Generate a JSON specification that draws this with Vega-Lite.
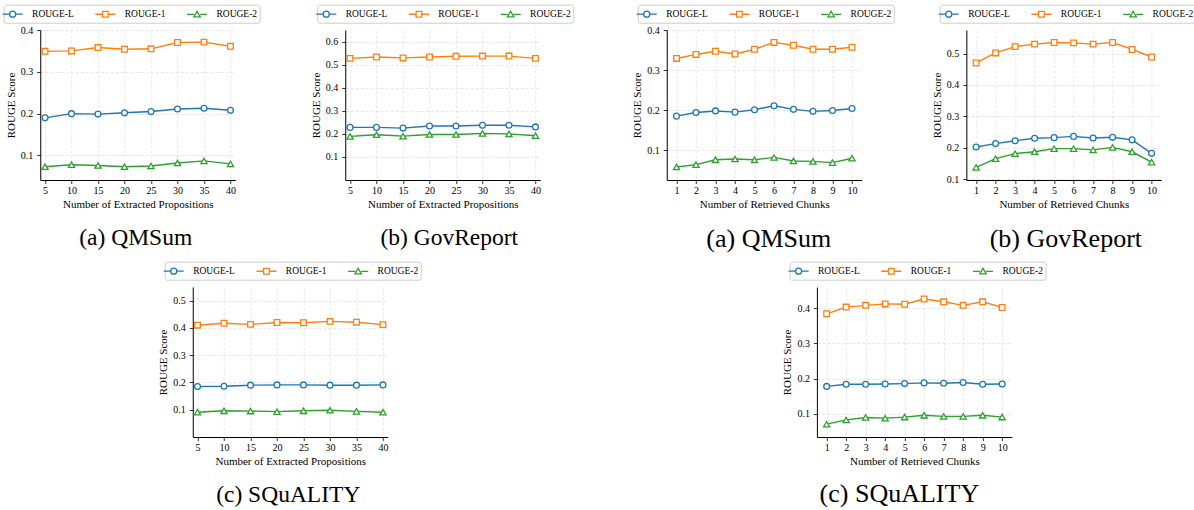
{
  "$schema": "https://vega.github.io/schema/vega-lite/v6.json",
  "padding": {"left": 3, "top": 4, "right": 0, "bottom": 0},
  "datasets": {
    "a": [
      {"x":5,"series":"ROUGE-L","score":0.190},{"x":10,"series":"ROUGE-L","score":0.200},{"x":15,"series":"ROUGE-L","score":0.199},{"x":20,"series":"ROUGE-L","score":0.202},{"x":25,"series":"ROUGE-L","score":0.205},{"x":30,"series":"ROUGE-L","score":0.211},{"x":35,"series":"ROUGE-L","score":0.213},{"x":40,"series":"ROUGE-L","score":0.208},
      {"x":5,"series":"ROUGE-1","score":0.349},{"x":10,"series":"ROUGE-1","score":0.350},{"x":15,"series":"ROUGE-1","score":0.358},{"x":20,"series":"ROUGE-1","score":0.354},{"x":25,"series":"ROUGE-1","score":0.355},{"x":30,"series":"ROUGE-1","score":0.370},{"x":35,"series":"ROUGE-1","score":0.371},{"x":40,"series":"ROUGE-1","score":0.361},
      {"x":5,"series":"ROUGE-2","score":0.073},{"x":10,"series":"ROUGE-2","score":0.078},{"x":15,"series":"ROUGE-2","score":0.076},{"x":20,"series":"ROUGE-2","score":0.073},{"x":25,"series":"ROUGE-2","score":0.075},{"x":30,"series":"ROUGE-2","score":0.082},{"x":35,"series":"ROUGE-2","score":0.087},{"x":40,"series":"ROUGE-2","score":0.080}
    ],
    "b": [
      {"x":5,"series":"ROUGE-L","score":0.228},{"x":10,"series":"ROUGE-L","score":0.228},{"x":15,"series":"ROUGE-L","score":0.225},{"x":20,"series":"ROUGE-L","score":0.234},{"x":25,"series":"ROUGE-L","score":0.234},{"x":30,"series":"ROUGE-L","score":0.237},{"x":35,"series":"ROUGE-L","score":0.237},{"x":40,"series":"ROUGE-L","score":0.230},
      {"x":5,"series":"ROUGE-1","score":0.527},{"x":10,"series":"ROUGE-1","score":0.533},{"x":15,"series":"ROUGE-1","score":0.529},{"x":20,"series":"ROUGE-1","score":0.533},{"x":25,"series":"ROUGE-1","score":0.536},{"x":30,"series":"ROUGE-1","score":0.537},{"x":35,"series":"ROUGE-1","score":0.537},{"x":40,"series":"ROUGE-1","score":0.527},
      {"x":5,"series":"ROUGE-2","score":0.189},{"x":10,"series":"ROUGE-2","score":0.196},{"x":15,"series":"ROUGE-2","score":0.190},{"x":20,"series":"ROUGE-2","score":0.197},{"x":25,"series":"ROUGE-2","score":0.197},{"x":30,"series":"ROUGE-2","score":0.202},{"x":35,"series":"ROUGE-2","score":0.200},{"x":40,"series":"ROUGE-2","score":0.192}
    ],
    "c": [
      {"x":1,"series":"ROUGE-L","score":0.185},{"x":2,"series":"ROUGE-L","score":0.194},{"x":3,"series":"ROUGE-L","score":0.198},{"x":4,"series":"ROUGE-L","score":0.195},{"x":5,"series":"ROUGE-L","score":0.201},{"x":6,"series":"ROUGE-L","score":0.211},{"x":7,"series":"ROUGE-L","score":0.202},{"x":8,"series":"ROUGE-L","score":0.197},{"x":9,"series":"ROUGE-L","score":0.199},{"x":10,"series":"ROUGE-L","score":0.204},
      {"x":1,"series":"ROUGE-1","score":0.329},{"x":2,"series":"ROUGE-1","score":0.339},{"x":3,"series":"ROUGE-1","score":0.347},{"x":4,"series":"ROUGE-1","score":0.340},{"x":5,"series":"ROUGE-1","score":0.352},{"x":6,"series":"ROUGE-1","score":0.369},{"x":7,"series":"ROUGE-1","score":0.362},{"x":8,"series":"ROUGE-1","score":0.352},{"x":9,"series":"ROUGE-1","score":0.352},{"x":10,"series":"ROUGE-1","score":0.357},
      {"x":1,"series":"ROUGE-2","score":0.058},{"x":2,"series":"ROUGE-2","score":0.064},{"x":3,"series":"ROUGE-2","score":0.076},{"x":4,"series":"ROUGE-2","score":0.078},{"x":5,"series":"ROUGE-2","score":0.076},{"x":6,"series":"ROUGE-2","score":0.082},{"x":7,"series":"ROUGE-2","score":0.073},{"x":8,"series":"ROUGE-2","score":0.072},{"x":9,"series":"ROUGE-2","score":0.069},{"x":10,"series":"ROUGE-2","score":0.080}
    ],
    "d": [
      {"x":1,"series":"ROUGE-L","score":0.202},{"x":2,"series":"ROUGE-L","score":0.213},{"x":3,"series":"ROUGE-L","score":0.222},{"x":4,"series":"ROUGE-L","score":0.230},{"x":5,"series":"ROUGE-L","score":0.232},{"x":6,"series":"ROUGE-L","score":0.236},{"x":7,"series":"ROUGE-L","score":0.231},{"x":8,"series":"ROUGE-L","score":0.233},{"x":9,"series":"ROUGE-L","score":0.225},{"x":10,"series":"ROUGE-L","score":0.182},
      {"x":1,"series":"ROUGE-1","score":0.470},{"x":2,"series":"ROUGE-1","score":0.502},{"x":3,"series":"ROUGE-1","score":0.522},{"x":4,"series":"ROUGE-1","score":0.530},{"x":5,"series":"ROUGE-1","score":0.535},{"x":6,"series":"ROUGE-1","score":0.534},{"x":7,"series":"ROUGE-1","score":0.530},{"x":8,"series":"ROUGE-1","score":0.535},{"x":9,"series":"ROUGE-1","score":0.513},{"x":10,"series":"ROUGE-1","score":0.489},
      {"x":1,"series":"ROUGE-2","score":0.137},{"x":2,"series":"ROUGE-2","score":0.165},{"x":3,"series":"ROUGE-2","score":0.181},{"x":4,"series":"ROUGE-2","score":0.187},{"x":5,"series":"ROUGE-2","score":0.197},{"x":6,"series":"ROUGE-2","score":0.197},{"x":7,"series":"ROUGE-2","score":0.193},{"x":8,"series":"ROUGE-2","score":0.201},{"x":9,"series":"ROUGE-2","score":0.187},{"x":10,"series":"ROUGE-2","score":0.154}
    ],
    "e": [
      {"x":5,"series":"ROUGE-L","score":0.185},{"x":10,"series":"ROUGE-L","score":0.186},{"x":15,"series":"ROUGE-L","score":0.190},{"x":20,"series":"ROUGE-L","score":0.191},{"x":25,"series":"ROUGE-L","score":0.191},{"x":30,"series":"ROUGE-L","score":0.190},{"x":35,"series":"ROUGE-L","score":0.190},{"x":40,"series":"ROUGE-L","score":0.191},
      {"x":5,"series":"ROUGE-1","score":0.410},{"x":10,"series":"ROUGE-1","score":0.417},{"x":15,"series":"ROUGE-1","score":0.413},{"x":20,"series":"ROUGE-1","score":0.420},{"x":25,"series":"ROUGE-1","score":0.419},{"x":30,"series":"ROUGE-1","score":0.424},{"x":35,"series":"ROUGE-1","score":0.421},{"x":40,"series":"ROUGE-1","score":0.412},
      {"x":5,"series":"ROUGE-2","score":0.091},{"x":10,"series":"ROUGE-2","score":0.096},{"x":15,"series":"ROUGE-2","score":0.095},{"x":20,"series":"ROUGE-2","score":0.093},{"x":25,"series":"ROUGE-2","score":0.096},{"x":30,"series":"ROUGE-2","score":0.098},{"x":35,"series":"ROUGE-2","score":0.094},{"x":40,"series":"ROUGE-2","score":0.091}
    ],
    "f": [
      {"x":1,"series":"ROUGE-L","score":0.178},{"x":2,"series":"ROUGE-L","score":0.184},{"x":3,"series":"ROUGE-L","score":0.184},{"x":4,"series":"ROUGE-L","score":0.185},{"x":5,"series":"ROUGE-L","score":0.186},{"x":6,"series":"ROUGE-L","score":0.188},{"x":7,"series":"ROUGE-L","score":0.187},{"x":8,"series":"ROUGE-L","score":0.189},{"x":9,"series":"ROUGE-L","score":0.184},{"x":10,"series":"ROUGE-L","score":0.185},
      {"x":1,"series":"ROUGE-1","score":0.384},{"x":2,"series":"ROUGE-1","score":0.403},{"x":3,"series":"ROUGE-1","score":0.408},{"x":4,"series":"ROUGE-1","score":0.412},{"x":5,"series":"ROUGE-1","score":0.411},{"x":6,"series":"ROUGE-1","score":0.426},{"x":7,"series":"ROUGE-1","score":0.418},{"x":8,"series":"ROUGE-1","score":0.408},{"x":9,"series":"ROUGE-1","score":0.418},{"x":10,"series":"ROUGE-1","score":0.402},
      {"x":1,"series":"ROUGE-2","score":0.071},{"x":2,"series":"ROUGE-2","score":0.083},{"x":3,"series":"ROUGE-2","score":0.090},{"x":4,"series":"ROUGE-2","score":0.088},{"x":5,"series":"ROUGE-2","score":0.091},{"x":6,"series":"ROUGE-2","score":0.096},{"x":7,"series":"ROUGE-2","score":0.093},{"x":8,"series":"ROUGE-2","score":0.093},{"x":9,"series":"ROUGE-2","score":0.096},{"x":10,"series":"ROUGE-2","score":0.091}
    ]
  },
  "hconcat": [
    {
      "vconcat": [
        {
          "hconcat": [
            {
              "width": 195, "height": 150,
              "data": {"name": "a"},
              "title": {"text": "(a) QMSum", "dx": -2, "fontSize": 23.5},
              "encoding": {
                "x": {"field": "x", "type": "quantitative", "scale": {"domain": [4.1, 40.9], "nice": false, "zero": false}, "axis": {"values": [5,10,15,20,25,30,35,40], "title": "Number of Extracted Propositions"}},
                "y": {"field": "score", "type": "quantitative", "scale": {"domain": [0.0414, 0.4], "nice": false, "zero": false}, "axis": {"values": [0.1,0.2,0.3,0.4], "format": ".1f", "title": "ROUGE Score"}},
                "color": {"field": "series", "type": "nominal", "scale": {"domain": ["ROUGE-L","ROUGE-1","ROUGE-2"], "range": ["#1f77b4","#ff7f0e","#2ca02c"]}, "legend": null}
              },
              "layer": [
                {"mark": {"type": "line", "strokeWidth": 1.4}},
                {"transform": [{"filter": "datum.series === 'ROUGE-L'"}], "mark": {"type": "point", "shape": "circle", "filled": false, "fill": "white", "size": 34, "strokeWidth": 1.3, "opacity": 1}},
                {"transform": [{"filter": "datum.series === 'ROUGE-1'"}], "mark": {"type": "point", "shape": "square", "filled": false, "fill": "white", "size": 32, "strokeWidth": 1.3, "opacity": 1}},
                {"transform": [{"filter": "datum.series === 'ROUGE-2'"}], "mark": {"type": "point", "shape": "triangle-up", "filled": false, "fill": "white", "size": 38, "strokeWidth": 1.3, "opacity": 1}},
                {"transform": [{"filter": "false"}], "mark": {"type": "point", "filled": false, "strokeWidth": 1.3, "opacity": 1},
                 "encoding": {
                   "color": {"field": "series", "type": "nominal", "scale": {"domain": ["ROUGE-L","ROUGE-1","ROUGE-2"], "range": ["#1f77b4","#ff7f0e","#2ca02c"]}, "legend": {"title": null, "orient": "none", "direction": "horizontal", "legendX": -36.6, "legendY": -25.3}},
                   "shape": {"field": "series", "type": "nominal", "scale": {"domain": ["ROUGE-L","ROUGE-1","ROUGE-2"], "range": ["M -3.38 0 M -1.82 0 L -0.55 0 M 0.55 0 L 1.82 0 M 0.55 0 A 0.55 0.55 0 1 1 -0.55 0 A 0.55 0.55 0 1 1 0.55 0 Z", "M -3.38 0 M -1.82 0 L -0.51 0 M 0.51 0 L 1.82 0 M -0.51 -0.51 L 0.51 -0.51 L 0.51 0.51 L -0.51 0.51 Z", "M -3.38 0 M -1.82 0 L -0.55 0 M 0.55 0 L 1.82 0 M 0 -0.58 L 0.58 0.44 L -0.58 0.44 Z"]}, "legend": {"title": null, "orient": "none", "direction": "horizontal", "legendX": -36.6, "legendY": -25.3}}
                 }}
              ],
              "resolve": {"scale": {"color": "independent", "shape": "independent"}, "legend": {"color": "independent", "shape": "independent"}}
            },
            {
              "width": 195, "height": 150,
              "data": {"name": "b"},
              "title": {"text": "(b) GovReport", "dx": 6.5, "fontSize": 23.5},
              "encoding": {
                "x": {"field": "x", "type": "quantitative", "scale": {"domain": [4.1, 40.9], "nice": false, "zero": false}, "axis": {"values": [5,10,15,20,25,30,35,40], "title": "Number of Extracted Propositions"}},
                "y": {"field": "score", "type": "quantitative", "scale": {"domain": [0, 0.65], "nice": false, "zero": false}, "axis": {"values": [0.1,0.2,0.3,0.4,0.5,0.6], "format": ".1f", "title": "ROUGE Score"}},
                "color": {"field": "series", "type": "nominal", "scale": {"domain": ["ROUGE-L","ROUGE-1","ROUGE-2"], "range": ["#1f77b4","#ff7f0e","#2ca02c"]}, "legend": null}
              },
              "layer": [
                {"mark": {"type": "line", "strokeWidth": 1.4}},
                {"transform": [{"filter": "datum.series === 'ROUGE-L'"}], "mark": {"type": "point", "shape": "circle", "filled": false, "fill": "white", "size": 34, "strokeWidth": 1.3, "opacity": 1}},
                {"transform": [{"filter": "datum.series === 'ROUGE-1'"}], "mark": {"type": "point", "shape": "square", "filled": false, "fill": "white", "size": 32, "strokeWidth": 1.3, "opacity": 1}},
                {"transform": [{"filter": "datum.series === 'ROUGE-2'"}], "mark": {"type": "point", "shape": "triangle-up", "filled": false, "fill": "white", "size": 38, "strokeWidth": 1.3, "opacity": 1}},
                {"transform": [{"filter": "false"}], "mark": {"type": "point", "filled": false, "strokeWidth": 1.3, "opacity": 1},
                 "encoding": {
                   "color": {"field": "series", "type": "nominal", "scale": {"domain": ["ROUGE-L","ROUGE-1","ROUGE-2"], "range": ["#1f77b4","#ff7f0e","#2ca02c"]}, "legend": {"title": null, "orient": "none", "direction": "horizontal", "legendX": -28, "legendY": -25.3}},
                   "shape": {"field": "series", "type": "nominal", "scale": {"domain": ["ROUGE-L","ROUGE-1","ROUGE-2"], "range": ["M -3.38 0 M -1.82 0 L -0.55 0 M 0.55 0 L 1.82 0 M 0.55 0 A 0.55 0.55 0 1 1 -0.55 0 A 0.55 0.55 0 1 1 0.55 0 Z", "M -3.38 0 M -1.82 0 L -0.51 0 M 0.51 0 L 1.82 0 M -0.51 -0.51 L 0.51 -0.51 L 0.51 0.51 L -0.51 0.51 Z", "M -3.38 0 M -1.82 0 L -0.55 0 M 0.55 0 L 1.82 0 M 0 -0.58 L 0.58 0.44 L -0.58 0.44 Z"]}, "legend": {"title": null, "orient": "none", "direction": "horizontal", "legendX": -28, "legendY": -25.3}}
                 }}
              ],
              "resolve": {"scale": {"color": "independent", "shape": "independent"}, "legend": {"color": "independent", "shape": "independent"}}
            }
          ],
          "spacing": 50,
          "resolve": {"scale": {"color": "independent", "shape": "independent"}, "legend": {"color": "independent", "shape": "independent"}}
        },
        {
          "width": 195, "height": 150,
          "data": {"name": "e"},
          "title": {"text": "(c) SQuALITY", "dx": -2, "fontSize": 23.5},
          "encoding": {
            "x": {"field": "x", "type": "quantitative", "scale": {"domain": [4.1, 40.9], "nice": false, "zero": false}, "axis": {"values": [5,10,15,20,25,30,35,40], "title": "Number of Extracted Propositions"}},
            "y": {"field": "score", "type": "quantitative", "scale": {"domain": [0, 0.55], "nice": false, "zero": false}, "axis": {"values": [0.1,0.2,0.3,0.4,0.5], "format": ".1f", "title": "ROUGE Score"}},
            "color": {"field": "series", "type": "nominal", "scale": {"domain": ["ROUGE-L","ROUGE-1","ROUGE-2"], "range": ["#1f77b4","#ff7f0e","#2ca02c"]}, "legend": null}
          },
          "layer": [
            {"mark": {"type": "line", "strokeWidth": 1.4}},
            {"transform": [{"filter": "datum.series === 'ROUGE-L'"}], "mark": {"type": "point", "shape": "circle", "filled": false, "fill": "white", "size": 34, "strokeWidth": 1.3, "opacity": 1}},
            {"transform": [{"filter": "datum.series === 'ROUGE-1'"}], "mark": {"type": "point", "shape": "square", "filled": false, "fill": "white", "size": 32, "strokeWidth": 1.3, "opacity": 1}},
            {"transform": [{"filter": "datum.series === 'ROUGE-2'"}], "mark": {"type": "point", "shape": "triangle-up", "filled": false, "fill": "white", "size": 38, "strokeWidth": 1.3, "opacity": 1}},
            {"transform": [{"filter": "false"}], "mark": {"type": "point", "filled": false, "strokeWidth": 1.3, "opacity": 1},
             "encoding": {
               "color": {"field": "series", "type": "nominal", "scale": {"domain": ["ROUGE-L","ROUGE-1","ROUGE-2"], "range": ["#1f77b4","#ff7f0e","#2ca02c"]}, "legend": {"title": null, "orient": "none", "direction": "horizontal", "legendX": -28, "legendY": -25.3}},
               "shape": {"field": "series", "type": "nominal", "scale": {"domain": ["ROUGE-L","ROUGE-1","ROUGE-2"], "range": ["M -3.38 0 M -1.82 0 L -0.55 0 M 0.55 0 L 1.82 0 M 0.55 0 A 0.55 0.55 0 1 1 -0.55 0 A 0.55 0.55 0 1 1 0.55 0 Z", "M -3.38 0 M -1.82 0 L -0.51 0 M 0.51 0 L 1.82 0 M -0.51 -0.51 L 0.51 -0.51 L 0.51 0.51 L -0.51 0.51 Z", "M -3.38 0 M -1.82 0 L -0.55 0 M 0.55 0 L 1.82 0 M 0 -0.58 L 0.58 0.44 L -0.58 0.44 Z"]}, "legend": {"title": null, "orient": "none", "direction": "horizontal", "legendX": -28, "legendY": -25.3}}
             }}
          ],
          "resolve": {"scale": {"color": "independent", "shape": "independent"}, "legend": {"color": "independent", "shape": "independent"}}
        }
      ],
      "center": true,
      "spacing": 12,
      "resolve": {"scale": {"color": "independent", "shape": "independent"}, "legend": {"color": "independent", "shape": "independent"}}
    },
    {
      "vconcat": [
        {
          "hconcat": [
            {
              "width": 195, "height": 150,
              "data": {"name": "c"},
              "title": {"text": "(a) QMSum", "dx": 4.5, "fontSize": 26},
              "encoding": {
                "x": {"field": "x", "type": "quantitative", "scale": {"domain": [0.5, 10.5], "nice": false, "zero": false}, "axis": {"values": [1,2,3,4,5,6,7,8,9,10], "title": "Number of Retrieved Chunks"}},
                "y": {"field": "score", "type": "quantitative", "scale": {"domain": [0.0256, 0.4], "nice": false, "zero": false}, "axis": {"values": [0.1,0.2,0.3,0.4], "format": ".1f", "title": "ROUGE Score"}},
                "color": {"field": "series", "type": "nominal", "scale": {"domain": ["ROUGE-L","ROUGE-1","ROUGE-2"], "range": ["#1f77b4","#ff7f0e","#2ca02c"]}, "legend": null}
              },
              "layer": [
                {"mark": {"type": "line", "strokeWidth": 1.4}},
                {"transform": [{"filter": "datum.series === 'ROUGE-L'"}], "mark": {"type": "point", "shape": "circle", "filled": false, "fill": "white", "size": 34, "strokeWidth": 1.3, "opacity": 1}},
                {"transform": [{"filter": "datum.series === 'ROUGE-1'"}], "mark": {"type": "point", "shape": "square", "filled": false, "fill": "white", "size": 32, "strokeWidth": 1.3, "opacity": 1}},
                {"transform": [{"filter": "datum.series === 'ROUGE-2'"}], "mark": {"type": "point", "shape": "triangle-up", "filled": false, "fill": "white", "size": 38, "strokeWidth": 1.3, "opacity": 1}},
                {"transform": [{"filter": "false"}], "mark": {"type": "point", "filled": false, "strokeWidth": 1.3, "opacity": 1},
                 "encoding": {
                   "color": {"field": "series", "type": "nominal", "scale": {"domain": ["ROUGE-L","ROUGE-1","ROUGE-2"], "range": ["#1f77b4","#ff7f0e","#2ca02c"]}, "legend": {"title": null, "orient": "none", "direction": "horizontal", "legendX": -29, "legendY": -25.3}},
                   "shape": {"field": "series", "type": "nominal", "scale": {"domain": ["ROUGE-L","ROUGE-1","ROUGE-2"], "range": ["M -3.38 0 M -1.82 0 L -0.55 0 M 0.55 0 L 1.82 0 M 0.55 0 A 0.55 0.55 0 1 1 -0.55 0 A 0.55 0.55 0 1 1 0.55 0 Z", "M -3.38 0 M -1.82 0 L -0.51 0 M 0.51 0 L 1.82 0 M -0.51 -0.51 L 0.51 -0.51 L 0.51 0.51 L -0.51 0.51 Z", "M -3.38 0 M -1.82 0 L -0.55 0 M 0.55 0 L 1.82 0 M 0 -0.58 L 0.58 0.44 L -0.58 0.44 Z"]}, "legend": {"title": null, "orient": "none", "direction": "horizontal", "legendX": -29, "legendY": -25.3}}
                 }}
              ],
              "resolve": {"scale": {"color": "independent", "shape": "independent"}, "legend": {"color": "independent", "shape": "independent"}}
            },
            {
              "width": 195, "height": 150,
              "data": {"name": "d"},
              "title": {"text": "(b) GovReport", "dx": 2, "fontSize": 26},
              "encoding": {
                "x": {"field": "x", "type": "quantitative", "scale": {"domain": [0.5, 10.5], "nice": false, "zero": false}, "axis": {"values": [1,2,3,4,5,6,7,8,9,10], "title": "Number of Retrieved Chunks"}},
                "y": {"field": "score", "type": "quantitative", "scale": {"domain": [0.097, 0.575], "nice": false, "zero": false}, "axis": {"values": [0.1,0.2,0.3,0.4,0.5], "format": ".1f", "title": "ROUGE Score"}},
                "color": {"field": "series", "type": "nominal", "scale": {"domain": ["ROUGE-L","ROUGE-1","ROUGE-2"], "range": ["#1f77b4","#ff7f0e","#2ca02c"]}, "legend": null}
              },
              "layer": [
                {"mark": {"type": "line", "strokeWidth": 1.4}},
                {"transform": [{"filter": "datum.series === 'ROUGE-L'"}], "mark": {"type": "point", "shape": "circle", "filled": false, "fill": "white", "size": 34, "strokeWidth": 1.3, "opacity": 1}},
                {"transform": [{"filter": "datum.series === 'ROUGE-1'"}], "mark": {"type": "point", "shape": "square", "filled": false, "fill": "white", "size": 32, "strokeWidth": 1.3, "opacity": 1}},
                {"transform": [{"filter": "datum.series === 'ROUGE-2'"}], "mark": {"type": "point", "shape": "triangle-up", "filled": false, "fill": "white", "size": 38, "strokeWidth": 1.3, "opacity": 1}},
                {"transform": [{"filter": "false"}], "mark": {"type": "point", "filled": false, "strokeWidth": 1.3, "opacity": 1},
                 "encoding": {
                   "color": {"field": "series", "type": "nominal", "scale": {"domain": ["ROUGE-L","ROUGE-1","ROUGE-2"], "range": ["#1f77b4","#ff7f0e","#2ca02c"]}, "legend": {"title": null, "orient": "none", "direction": "horizontal", "legendX": -26.6, "legendY": -25.3}},
                   "shape": {"field": "series", "type": "nominal", "scale": {"domain": ["ROUGE-L","ROUGE-1","ROUGE-2"], "range": ["M -3.38 0 M -1.82 0 L -0.55 0 M 0.55 0 L 1.82 0 M 0.55 0 A 0.55 0.55 0 1 1 -0.55 0 A 0.55 0.55 0 1 1 0.55 0 Z", "M -3.38 0 M -1.82 0 L -0.51 0 M 0.51 0 L 1.82 0 M -0.51 -0.51 L 0.51 -0.51 L 0.51 0.51 L -0.51 0.51 Z", "M -3.38 0 M -1.82 0 L -0.55 0 M 0.55 0 L 1.82 0 M 0 -0.58 L 0.58 0.44 L -0.58 0.44 Z"]}, "legend": {"title": null, "orient": "none", "direction": "horizontal", "legendX": -26.6, "legendY": -25.3}}
                 }}
              ],
              "resolve": {"scale": {"color": "independent", "shape": "independent"}, "legend": {"color": "independent", "shape": "independent"}}
            }
          ],
          "spacing": 36.6,
          "resolve": {"scale": {"color": "independent", "shape": "independent"}, "legend": {"color": "independent", "shape": "independent"}}
        },
        {
          "width": 195, "height": 150,
          "data": {"name": "f"},
          "title": {"text": "(c) SQuALITY", "dx": -15, "fontSize": 26, "offset": 14},
          "encoding": {
            "x": {"field": "x", "type": "quantitative", "scale": {"domain": [0.5, 10.5], "nice": false, "zero": false}, "axis": {"values": [1,2,3,4,5,6,7,8,9,10], "title": "Number of Retrieved Chunks"}},
            "y": {"field": "score", "type": "quantitative", "scale": {"domain": [0.0345, 0.46], "nice": false, "zero": false}, "axis": {"values": [0.1,0.2,0.3,0.4], "format": ".1f", "title": "ROUGE Score"}},
            "color": {"field": "series", "type": "nominal", "scale": {"domain": ["ROUGE-L","ROUGE-1","ROUGE-2"], "range": ["#1f77b4","#ff7f0e","#2ca02c"]}, "legend": null}
          },
          "layer": [
            {"mark": {"type": "line", "strokeWidth": 1.4}},
            {"transform": [{"filter": "datum.series === 'ROUGE-L'"}], "mark": {"type": "point", "shape": "circle", "filled": false, "fill": "white", "size": 34, "strokeWidth": 1.3, "opacity": 1}},
            {"transform": [{"filter": "datum.series === 'ROUGE-1'"}], "mark": {"type": "point", "shape": "square", "filled": false, "fill": "white", "size": 32, "strokeWidth": 1.3, "opacity": 1}},
            {"transform": [{"filter": "datum.series === 'ROUGE-2'"}], "mark": {"type": "point", "shape": "triangle-up", "filled": false, "fill": "white", "size": 38, "strokeWidth": 1.3, "opacity": 1}},
            {"transform": [{"filter": "false"}], "mark": {"type": "point", "filled": false, "strokeWidth": 1.3, "opacity": 1},
             "encoding": {
               "color": {"field": "series", "type": "nominal", "scale": {"domain": ["ROUGE-L","ROUGE-1","ROUGE-2"], "range": ["#1f77b4","#ff7f0e","#2ca02c"]}, "legend": {"title": null, "orient": "none", "direction": "horizontal", "legendX": -27.3, "legendY": -25.3}},
               "shape": {"field": "series", "type": "nominal", "scale": {"domain": ["ROUGE-L","ROUGE-1","ROUGE-2"], "range": ["M -3.38 0 M -1.82 0 L -0.55 0 M 0.55 0 L 1.82 0 M 0.55 0 A 0.55 0.55 0 1 1 -0.55 0 A 0.55 0.55 0 1 1 0.55 0 Z", "M -3.38 0 M -1.82 0 L -0.51 0 M 0.51 0 L 1.82 0 M -0.51 -0.51 L 0.51 -0.51 L 0.51 0.51 L -0.51 0.51 Z", "M -3.38 0 M -1.82 0 L -0.55 0 M 0.55 0 L 1.82 0 M 0 -0.58 L 0.58 0.44 L -0.58 0.44 Z"]}, "legend": {"title": null, "orient": "none", "direction": "horizontal", "legendX": -27.3, "legendY": -25.3}}
             }}
          ],
          "resolve": {"scale": {"color": "independent", "shape": "independent"}, "legend": {"color": "independent", "shape": "independent"}}
        }
      ],
      "center": true,
      "spacing": 9,
      "resolve": {"scale": {"color": "independent", "shape": "independent"}, "legend": {"color": "independent", "shape": "independent"}}
    }
  ],
  "spacing": 57.5,
  "resolve": {"scale": {"color": "independent", "shape": "independent"}, "legend": {"color": "independent", "shape": "independent"}},
  "config": {
    "view": {"stroke": null},
    "font": "Liberation Serif",
    "axis": {"domainColor": "#000", "domainWidth": 1, "tickColor": "#000", "tickSize": 3.5, "tickWidth": 0.8, "labelFont": "Liberation Serif", "labelFontSize": 10, "labelColor": "#000", "titleFont": "Liberation Serif", "titleFontSize": 11, "titleFontWeight": "normal", "titleColor": "#000", "gridColor": "#dcdcdc", "gridDash": [3, 2], "gridWidth": 0.7},
    "axisX": {"labelPadding": 2, "titlePadding": 3},
    "axisY": {"labelPadding": 4, "titlePadding": 4},
    "legend": {"labelFont": "Liberation Serif", "labelFontSize": 9.5, "labelColor": "#000", "symbolSize": 121, "symbolStrokeWidth": 1.3, "symbolOpacity": 1, "labelOffset": 12.9, "columnPadding": 9.7, "padding": 2.5, "strokeColor": "#cccccc", "fillColor": "white", "cornerRadius": 2},
    "title": {"orient": "bottom", "anchor": "middle", "frame": "group", "font": "Liberation Serif", "fontSize": 22, "fontWeight": "normal", "color": "#000", "offset": 16}
  }
}
